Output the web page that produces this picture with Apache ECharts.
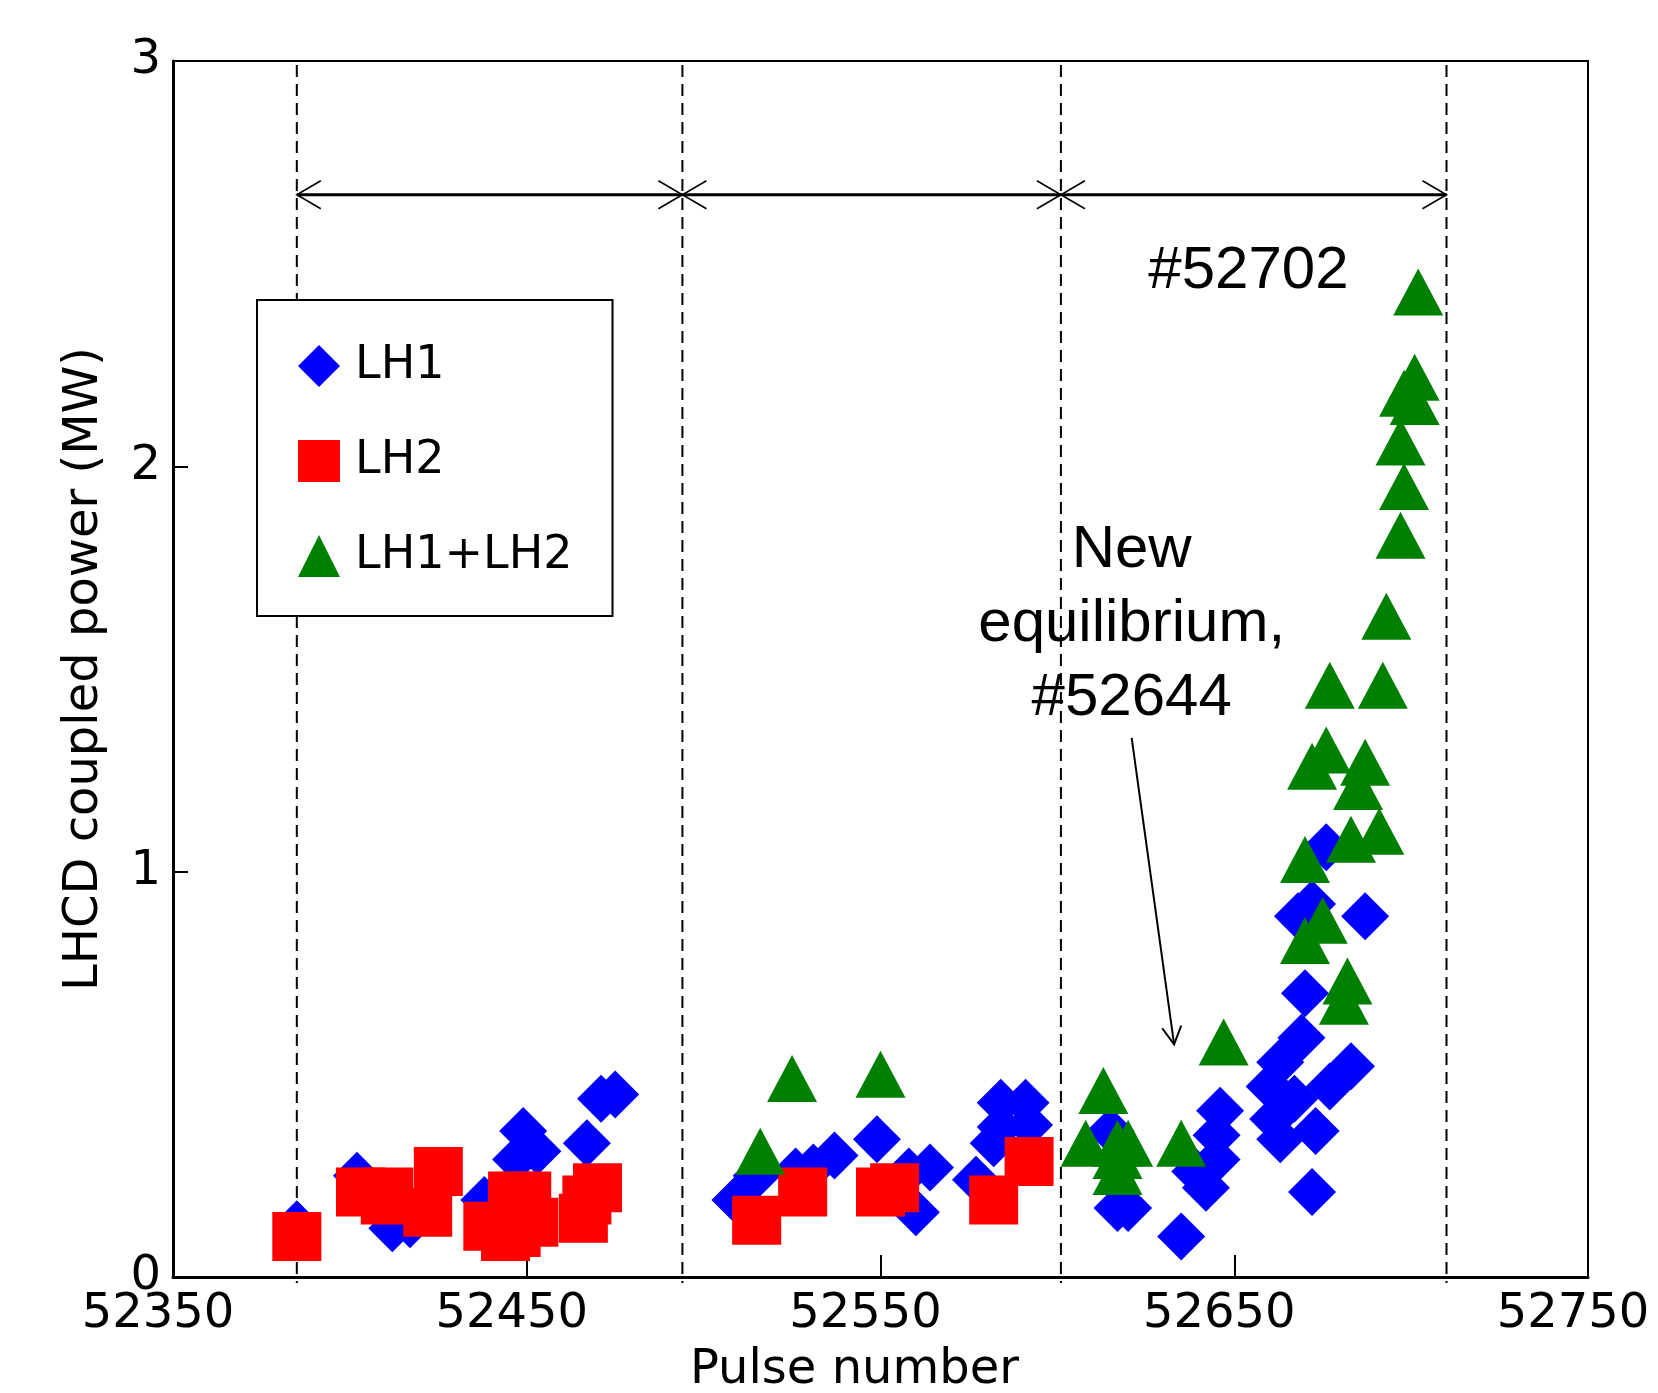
<!DOCTYPE html>
<html>
<head>
<meta charset="utf-8">
<title>LHCD coupled power</title>
<script src="https://cdn.jsdelivr.net/npm/echarts@6/dist/echarts.min.js"></script>
<style>
  html, body { margin: 0; padding: 0; background: #fff; }
  #chart { width: 1658px; height: 1393px; }
</style>
</head>
<body>
<div id="chart"></div>
<script>
// [pulse number, coupled power (MW)]
var lh1 = [
  [52385, 0.13], [52402, 0.25], [52412, 0.12], [52417, 0.13], [52438, 0.19],
  [52447, 0.29], [52449, 0.36], [52453, 0.31], [52467, 0.33], [52470, 0.19],
  [52471, 0.44], [52475, 0.45],
  [52509, 0.19], [52515, 0.25], [52526, 0.26], [52531, 0.27], [52537, 0.30],
  [52549, 0.34], [52558, 0.26], [52560, 0.16], [52564, 0.27], [52577, 0.24],
  [52582, 0.33], [52584, 0.37], [52584, 0.43], [52591, 0.43], [52592, 0.375],
  [52615, 0.36], [52617, 0.17], [52620, 0.17], [52635, 0.10], [52639, 0.26],
  [52642, 0.22], [52645, 0.29], [52645, 0.35], [52646, 0.41], [52660, 0.47],
  [52661, 0.39], [52663, 0.53], [52663, 0.34], [52667, 0.44], [52669, 0.59],
  [52670, 0.70], [52672, 0.21], [52673, 0.36], [52677, 0.47], [52683, 0.52],
  [52668, 0.89], [52672, 0.92], [52676, 1.06], [52687, 0.89]
];
var lh2 = [
  [52385, 0.10], [52403, 0.21], [52410, 0.19], [52411, 0.21], [52422, 0.16],
  [52425, 0.26], [52439, 0.125], [52444, 0.10], [52447, 0.11], [52446, 0.20],
  [52450, 0.20], [52452, 0.135], [52466, 0.145], [52467, 0.19], [52470, 0.22],
  [52515, 0.14], [52528, 0.21], [52550, 0.21], [52554, 0.22], [52582, 0.19],
  [52592, 0.285]
];
var lh12 = [
  [52516, 0.31], [52525, 0.49], [52550, 0.50],
  [52608, 0.33], [52613, 0.46], [52617, 0.33], [52617, 0.30], [52617, 0.26],
  [52620, 0.33], [52635, 0.33], [52647, 0.58], [52670, 0.83], [52670, 1.03],
  [52672, 1.26], [52675, 0.88], [52676, 1.30], [52677, 1.46], [52681, 0.68],
  [52682, 0.73], [52683, 1.08], [52685, 1.21], [52687, 1.27], [52691, 1.10],
  [52692, 1.46], [52693, 1.63], [52697, 1.83], [52698, 1.95], [52697, 2.06],
  [52698, 2.18], [52701, 2.16], [52701, 2.22], [52702, 2.43]
];
var xTicks = [52350, 52450, 52550, 52650, 52750];
var phaseBounds = [52385, 52494, 52601, 52710];
var spanLevel = 2.67;
var notePos = [[52654, 2.48], [52621, 1.61]];
var noteText = ['#52702', 'New\nequilibrium,\n#52644'];
var noteArrow = [[52621, 1.33, 52633, 0.574]];

// 相邻的分界线之间画双向箭头
var spans = [];
for (var i = 0; i < phaseBounds.length - 1; i++) {
  spans.push([phaseBounds[i], phaseBounds[i + 1], spanLevel]);
}

var chart = echarts.init(document.getElementById('chart'));

function renderBound(params, api) {
  var top = api.coord([api.value(0), 3]);
  var bottom = api.coord([api.value(0), 0]);
  return {
    type: 'line',
    shape: { x1: top[0], y1: top[1] + 4, x2: bottom[0], y2: bottom[1] + 6 },
    style: { stroke: '#000', lineWidth: 2, lineDash: [12, 7] }
  };
}

function renderSpan(params, api) {
  var a = api.coord([api.value(0), api.value(2)]);
  var b = api.coord([api.value(1), api.value(2)]);
  var h = 24, w = 14;
  var head = { stroke: '#000', lineWidth: 1.6, fill: 'none' };
  return {
    type: 'group',
    children: [
      { type: 'line', shape: { x1: a[0], y1: a[1], x2: b[0], y2: b[1] }, style: { stroke: '#000', lineWidth: 3 } },
      { type: 'polyline', shape: { points: [[a[0] + h, a[1] - w], [a[0], a[1]], [a[0] + h, a[1] + w]] }, style: head },
      { type: 'polyline', shape: { points: [[b[0] - h, b[1] - w], [b[0], b[1]], [b[0] - h, b[1] + w]] }, style: head }
    ]
  };
}

function renderPointer(params, api) {
  var s = api.coord([api.value(0), api.value(1)]);
  var t = api.coord([api.value(2), api.value(3)]);
  var ang = Math.atan2(t[1] - s[1], t[0] - s[0]);
  var len = 20, spread = 0.5;
  var p1 = [t[0] - len * Math.cos(ang - spread), t[1] - len * Math.sin(ang - spread)];
  var p2 = [t[0] - len * Math.cos(ang + spread), t[1] - len * Math.sin(ang + spread)];
  return {
    type: 'group',
    children: [
      { type: 'line', shape: { x1: s[0], y1: s[1], x2: t[0], y2: t[1] }, style: { stroke: '#000', lineWidth: 2 } },
      { type: 'polyline', shape: { points: [p1, t, p2] }, style: { stroke: '#000', lineWidth: 2, fill: 'none' } }
    ]
  };
}

function renderNote(params, api) {
  var p = api.coord([api.value(0), api.value(1)]);
  return {
    type: 'text',
    x: p[0],
    y: p[1],
    style: {
      text: noteText[params.dataIndex],
      fontFamily: 'Liberation Sans',
      fontSize: 60,
      lineHeight: 74,
      fill: '#000',
      align: 'center',
      verticalAlign: 'middle'
    }
  };
}

var option = {
  animation: false,
  backgroundColor: '#fff',
  grid: {
    left: 173,
    right: 70,
    top: 61,
    bottom: 116,
    outerBoundsMode: 'none',
    containLabel: false,
    show: true,
    borderColor: '#000',
    borderWidth: 2
  },
  legend: {
    data: ['LH1', 'LH2', 'LH1+LH2'],
    orient: 'vertical',
    left: 257,
    top: 300,
    padding: [43, 40, 37, 41],
    itemGap: 49,
    itemWidth: 42,
    itemHeight: 42,
    borderColor: '#000',
    borderWidth: 2,
    backgroundColor: '#fff',
    textStyle: {
      fontFamily: 'DejaVu Sans',
      fontSize: 46,
      color: '#000',
      padding: [0, 0, 0, 10]
    }
  },
  xAxis: {
    type: 'value',
    min: 52350,
    max: 52750,
    name: 'Pulse number',
    nameLocation: 'middle',
    nameGap: 70,
    nameTextStyle: {
      fontFamily: 'DejaVu Sans',
      fontSize: 48,
      color: '#000',
      padding: [0, 52, 0, 0]
    },
    axisLine: { lineStyle: { color: '#000', width: 3 } },
    axisTick: {
      inside: true,
      length: 22,
      customValues: xTicks,
      lineStyle: { color: '#000', width: 2 }
    },
    axisLabel: {
      customValues: xTicks,
      fontFamily: 'DejaVu Sans',
      fontSize: 48,
      color: '#000',
      margin: 14,
      padding: [0, 30, 0, 0],
      formatter: function (v) { return String(v); }
    },
    splitLine: { show: false }
  },
  yAxis: {
    type: 'value',
    min: 0,
    max: 3,
    interval: 1,
    name: 'LHCD coupled power (MW)',
    nameLocation: 'middle',
    nameGap: 64,
    nameTextStyle: {
      fontFamily: 'DejaVu Sans',
      fontSize: 48,
      color: '#000'
    },
    axisLine: { show: true, lineStyle: { color: '#000', width: 3 } },
    axisTick: { show: true, inside: true, length: 15, lineStyle: { color: '#000', width: 2 } },
    axisLabel: {
      fontFamily: 'DejaVu Sans',
      fontSize: 48,
      color: '#000',
      margin: 12
    },
    splitLine: { show: false }
  },
  series: [
    {
      name: 'bounds',
      type: 'custom',
      silent: true,
      renderItem: renderBound,
      encode: { x: 0, y: -1 },
      data: phaseBounds.map(function (b) { return [b]; }),
      z: 1
    },
    {
      name: 'spans',
      type: 'custom',
      silent: true,
      renderItem: renderSpan,
      encode: { x: [0, 1], y: 2 },
      data: spans,
      z: 1
    },
    {
      name: 'LH1',
      type: 'scatter',
      symbol: 'diamond',
      symbolSize: 48,
      itemStyle: { color: '#0000ff', opacity: 1 },
      data: lh1,
      z: 2
    },
    {
      name: 'LH2',
      type: 'scatter',
      symbol: 'rect',
      symbolSize: 49,
      itemStyle: { color: '#ff0000', opacity: 1 },
      data: lh2,
      z: 3
    },
    {
      name: 'LH1+LH2',
      type: 'scatter',
      symbol: 'triangle',
      symbolSize: [50, 47],
      itemStyle: { color: '#008000', opacity: 1 },
      data: lh12,
      z: 4
    },
    {
      name: 'pointer',
      type: 'custom',
      silent: true,
      renderItem: renderPointer,
      encode: { x: [0, 2], y: [1, 3] },
      data: noteArrow,
      z: 5
    },
    {
      name: 'notes',
      type: 'custom',
      silent: true,
      renderItem: renderNote,
      encode: { x: 0, y: 1 },
      data: notePos,
      z: 5
    }
  ]
};

chart.setOption(option);
</script>
</body>
</html>
